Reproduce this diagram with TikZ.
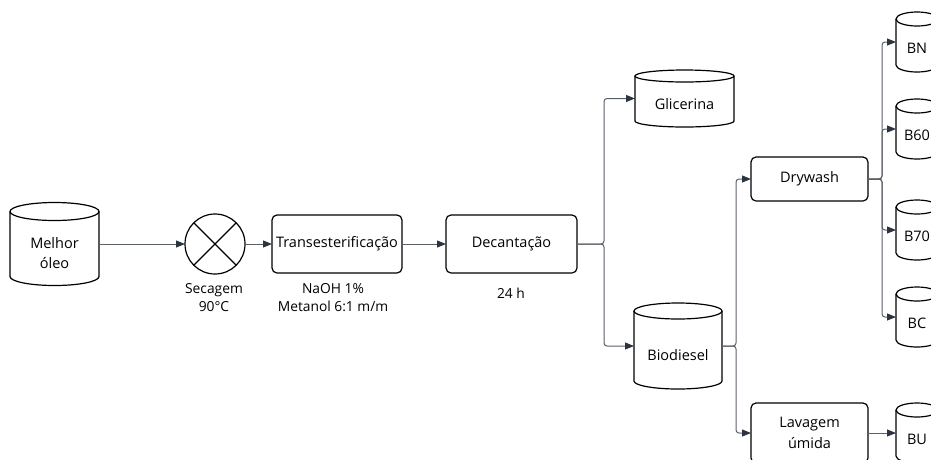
\documentclass[tikz,border=0pt]{standalone}
\usepackage{fontspec}
\setmainfont{Open Sans}
\usetikzlibrary{arrows.meta}
\definecolor{linec}{HTML}{5A6068}
\definecolor{tipc}{HTML}{2B3440}
\newcommand\mycyl[8]{%
  \node[cylnode, minimum width=#4pt, minimum height=#5pt] (#1) at (#2,#3) {};
  \node[cyltext] at ([yshift=-#8pt]#1.center) {#7};
  \draw[cylline] ([yshift=-#6pt]#1.north) ellipse [x radius=#4pt/2, y radius=#6pt];
  \draw[cylline] ([yshift=-#6pt]#1.north west) -- ([yshift=#6pt]#1.south west)
     arc[start angle=180, end angle=360, x radius=#4pt/2, y radius=#6pt]
     -- ([yshift=-#6pt]#1.north east);
}
\begin{document}
\begin{tikzpicture}[x=1pt,y=-1pt,
  font=\fontsize{14.5}{20.5}\selectfont,
  box/.style={draw, line width=1.2pt, rounded corners=5pt, align=center, inner sep=0pt, outer sep=0pt},
  cylnode/.style={inner sep=0pt, outer sep=0pt},
  cyltext/.style={align=center, inner sep=0pt},
  cylline/.style={draw, line width=1.2pt},
  conn/.style={draw=linec, line width=1pt, rounded corners=3pt, -{Triangle[length=9pt,width=7pt,color=tipc]}},
  lbl/.style={align=center, font=\fontsize{13.8}{18}\selectfont}]
\path[use as bounding box] (0,0) rectangle (931,459);
\clip (0,0) rectangle (931,459);

% cylinders
\mycyl{oleo}{54.5}{244}{89}{83}{9}{Melhor\\óleo}{9}
\mycyl{gli}{684.5}{98.5}{99}{57}{6}{Glicerina}{6}
\mycyl{bio}{678}{346}{88}{86}{8}{Biodiesel}{9}
\mycyl{bn}{917}{42}{42}{60}{7}{BN}{6}
\mycyl{bsixty}{917}{129}{42}{60}{7}{B60}{6}
\mycyl{bseventy}{917}{230}{42}{60}{7}{B70}{6}
\mycyl{bc}{917}{317}{42}{60}{7}{BC}{6}
\mycyl{bu}{917}{433}{42}{60}{7}{BU}{6}

% process nodes
\node[draw, circle, line width=1.2pt, minimum size=60pt, inner sep=0pt, outer sep=0pt] (sec) at (215,244) {};
\draw[line width=1.2pt] (sec.north west) -- (sec.south east) (sec.north east) -- (sec.south west);
\node[box, minimum width=130pt, minimum height=58pt] (trans) at (337,244) {Transesterificação};
\node[box, minimum width=131pt, minimum height=58pt] (dec) at (511.5,244) {Decantação};
\node[box, minimum width=117pt, minimum height=44pt] (dry) at (809.5,179) {Drywash};
\node[box, minimum width=117pt, minimum height=60pt] (lav) at (809.5,433) {Lavagem\\úmida};

% labels
\node[lbl] (seclbl) at (214,298) {Secagem\\90°C};
\node[lbl] (translbl) at (333,298) {NaOH 1\%\\Metanol 6:1 m/m};
\node[lbl] (declbl) at (511,293) {24 h};

% fork points
\coordinate (f1) at (604,244);
\coordinate (f2) at (736,346);
\coordinate (f3) at (882,179);

% connectors
\draw[conn] (oleo) -- (sec);
\draw[conn] (sec) -- (trans);
\draw[conn] (trans) -- (dec);
\draw[conn] (dec.east) -- (f1) |- (gli.west);
\draw[conn] (dec.east) -- (f1) |- (bio.west);
\draw[conn] (bio.east) -- (f2) |- (dry.west);
\draw[conn] (bio.east) -- (f2) |- (lav.west);
\draw[conn] (dry.east) -- (f3) |- (bn.west);
\draw[conn] (dry.east) -- (f3) |- (bsixty.west);
\draw[conn] (dry.east) -- (f3) |- (bseventy.west);
\draw[conn] (dry.east) -- (f3) |- (bc.west);
\draw[conn] (lav) -- (bu);
\end{tikzpicture}
\end{document}
